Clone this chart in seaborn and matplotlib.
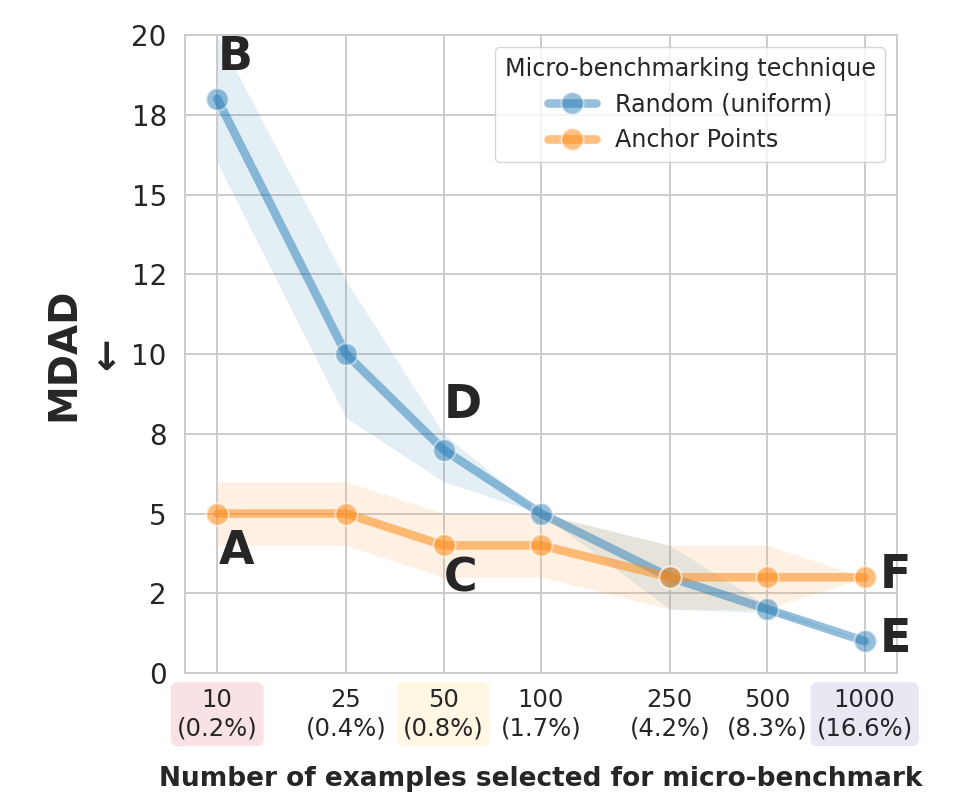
import numpy as np
import pandas as pd
import seaborn as sns
import matplotlib.pyplot as plt
from matplotlib.ticker import StrMethodFormatter

# values
sizes = [10, 25, 50, 100, 250, 500, 1000]
size_pct = ["0.2%", "0.4%", "0.8%", "1.7%", "4.2%", "8.3%", "16.6%"]
random_mean = [18.0, 10.0, 7.0, 5.0, 3.0, 2.0, 1.0]
random_lo = [16.0, 8.0, 6.0, 5.0, 2.0, 1.9, 1.0]
random_hi = [20.0, 12.3, 7.5, 5.0, 4.0, 2.1, 1.0]
anchor_mean = [5.0, 5.0, 4.0, 4.0, 3.0, 3.0, 3.0]
anchor_lo = [4.0, 4.0, 3.0, 3.0, 2.0, 2.0, 3.0]
anchor_hi = [6.0, 6.0, 5.0, 5.0, 4.0, 4.0, 3.0]
techniques = ["Random (uniform)", "Anchor Points"]
highlight = {0: "#f8e2e4", 2: "#fff6e3", 6: "#ebe7f2"}

df = pd.concat([
    pd.DataFrame({"n": sizes, "mdad": random_mean, "Micro-benchmarking technique": techniques[0]}),
    pd.DataFrame({"n": sizes, "mdad": anchor_mean, "Micro-benchmarking technique": techniques[1]}),
])

sns.set_theme(style="whitegrid")
plt.rcParams.update({"grid.color": "#cccccc", "grid.linewidth": 1.4,
                     "axes.edgecolor": "#cccccc", "axes.linewidth": 1.4})

fig = plt.figure(figsize=(9.73, 7.96), dpi=100)
ax = fig.add_axes([0.190, 0.1545, 0.732, 0.8015])

colors = ["#1f77b4", "#ff8c1a"]
ax.fill_between(sizes, random_lo, random_hi, color="#1f77b4", alpha=0.12, lw=0)
ax.fill_between(sizes, anchor_lo, anchor_hi, color="#fd9a2c", alpha=0.13, lw=0)

sns.lineplot(data=df, x="n", y="mdad", hue="Micro-benchmarking technique",
             palette=colors, marker="o", markersize=16, markeredgecolor="white",
             markeredgewidth=1.5, linewidth=6.2, alpha=0.47, errorbar=None, ax=ax)
# anchor line is a bit stronger in the reference
ax.lines[1].set_alpha(0.55)

ax.set_xscale("log")
ax.minorticks_off()
ax.set_xticks(sizes)
ax.set_xticklabels([f"{n}\n({p})" for n, p in zip(sizes, size_pct)])
ax.set_ylim(0, 20)
ax.set_yticks(np.arange(0, 20.1, 2.5))
ax.yaxis.set_major_formatter(StrMethodFormatter("{x:.0f}"))
ax.tick_params(axis="y", labelsize=20, length=0, pad=13)
ax.tick_params(axis="x", labelsize=17.5, length=0, pad=11)
for i, c in highlight.items():
    ax.get_xticklabels()[i].set_bbox(dict(boxstyle="round,pad=0.25,rounding_size=0.3",
                                          fc=c, ec="none"))

ax.set_xlabel("Number of examples selected for micro-benchmark", fontsize=19,
              fontweight="bold", labelpad=19)
ax.set_ylabel("MDAD\n\u2190", fontsize=28, fontweight="bold", labelpad=4)

# letter markers
labels = [("A", sizes[0], anchor_mean[0], (14, -27)),
          ("B", sizes[0], random_mean[0], (13, 30)),
          ("C", sizes[2], anchor_mean[2], (12, -24)),
          ("D", sizes[2], random_mean[2], (14, 32)),
          ("E", sizes[6], random_mean[6], (22, 1)),
          ("F", sizes[6], anchor_mean[6], (22, 1))]
for txt, x, y, off in labels:
    ax.annotate(txt, (x, y), xytext=off, textcoords="offset points", ha="center",
                va="center", fontsize=33, fontweight="bold", color="#262626")

leg = ax.legend(title="Micro-benchmarking technique", loc="upper right",
                fontsize=17.2, title_fontsize=17.2)
leg.legend_handles[1].set_alpha(0.55)

plt.savefig("out.png", dpi=100)
